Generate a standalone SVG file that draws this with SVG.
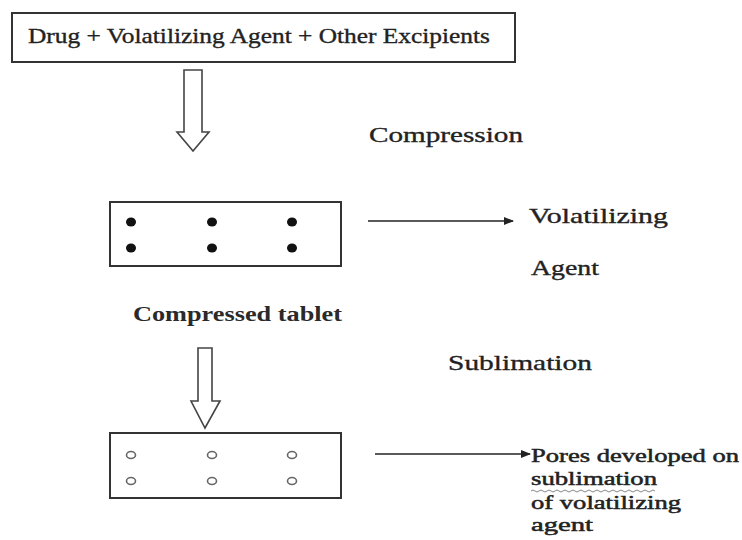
<svg xmlns="http://www.w3.org/2000/svg" width="742" height="540" viewBox="0 0 742 540">
<style>
.t{font-family:"Liberation Serif","Times New Roman",serif;font-size:22px;fill:#222;stroke:#222;stroke-width:0.35}
.b{font-weight:bold;stroke-width:0;fill:#2a2a2a}
.s{font-size:19px;stroke-width:0.5}
.box{fill:#fff;stroke:#333;stroke-width:2}
.dot{fill:#111}
.pore{fill:none;stroke:#666;stroke-width:1.6}
.hollow{fill:#fff;stroke:#444;stroke-width:1.6;stroke-linejoin:miter}
.line{stroke:#222;stroke-width:1.6;fill:none}
</style>
<defs>
<marker id="ah" markerWidth="10" markerHeight="8" refX="9" refY="4" orient="auto" markerUnits="userSpaceOnUse">
<path d="M0,0 L10,4 L0,8 Z" fill="#222"/>
</marker>
</defs>
<rect width="742" height="540" fill="#fff"/>
<g id="mixture">
<rect class="box" x="12" y="13" width="503" height="49"/>
<text class="t" x="28" y="43" textLength="462" lengthAdjust="spacingAndGlyphs">Drug + Volatilizing Agent + Other Excipients</text>
</g>
<g id="compression-label">
<text class="t" x="369" y="142" textLength="154" lengthAdjust="spacingAndGlyphs">Compression</text>
</g>
<g id="compressed-tablet">
<rect class="box" x="110" y="202" width="231" height="64"/>
<ellipse class="dot" cx="131" cy="222" rx="5" ry="4.5"/>
<ellipse class="dot" cx="212" cy="222" rx="5" ry="4.5"/>
<ellipse class="dot" cx="292" cy="222" rx="5" ry="4.5"/>
<ellipse class="dot" cx="131" cy="248" rx="5" ry="4.5"/>
<ellipse class="dot" cx="212" cy="248" rx="5" ry="4.5"/>
<ellipse class="dot" cx="292" cy="248" rx="5" ry="4.5"/>
</g>
<g id="volatilizing-agent-label">
<text class="t" x="529" y="223" textLength="139" lengthAdjust="spacingAndGlyphs">Volatilizing</text>
<text class="t" x="531" y="275" textLength="68" lengthAdjust="spacingAndGlyphs">Agent</text>
</g>
<g id="compressed-tablet-label">
<text class="t b" x="133" y="321" textLength="209" lengthAdjust="spacingAndGlyphs">Compressed tablet</text>
</g>
<g id="sublimation-label">
<text class="t" x="448" y="370" textLength="144" lengthAdjust="spacingAndGlyphs">Sublimation</text>
</g>
<g id="porous-tablet">
<rect class="box" x="110" y="433" width="231" height="65"/>
<ellipse class="pore" cx="131" cy="455" rx="4.5" ry="3.5"/>
<ellipse class="pore" cx="212" cy="455" rx="4.5" ry="3.5"/>
<ellipse class="pore" cx="292" cy="455" rx="4.5" ry="3.5"/>
<ellipse class="pore" cx="131" cy="481" rx="4.5" ry="3.5"/>
<ellipse class="pore" cx="212" cy="481" rx="4.5" ry="3.5"/>
<ellipse class="pore" cx="292" cy="481" rx="4.5" ry="3.5"/>
</g>
<g id="pores-label">
<text class="t s" x="531" y="462" textLength="208" lengthAdjust="spacingAndGlyphs">Pores developed on</text>
<text class="t s" x="531" y="485" textLength="126" lengthAdjust="spacingAndGlyphs">sublimation</text>
<path d="M531,491 q2,-2 4,0 t4,0 t4,0 t4,0 t4,0 t4,0 t4,0 t4,0 t4,0 t4,0 t4,0 t4,0 t4,0 t4,0 t4,0 t4,0 t4,0 t4,0 t4,0 t4,0 t4,0 t4,0 t4,0 t4,0 t4,0 t4,0 t4,0 t4,0 t4,0 t4,0 t4,0" fill="none" stroke="#888" stroke-width="1"/>
<text class="t s" x="531" y="509" textLength="150" lengthAdjust="spacingAndGlyphs">of volatilizing</text>
<text class="t s" x="531" y="531" textLength="62" lengthAdjust="spacingAndGlyphs">agent</text>
</g>
<g id="connectors">
<path class="hollow" d="M184,70 L202,70 L202,132 L209,132 L193,151 L177,132 L184,132 Z"/>
<path class="hollow" d="M198,348 L212,348 L212,401 L220,401 L205,428 L191,401 L198,401 Z"/>
<line class="line" x1="368" y1="221" x2="513" y2="221" marker-end="url(#ah)"/>
<line class="line" x1="375" y1="454" x2="530" y2="454" marker-end="url(#ah)"/>
</g>
</svg>
